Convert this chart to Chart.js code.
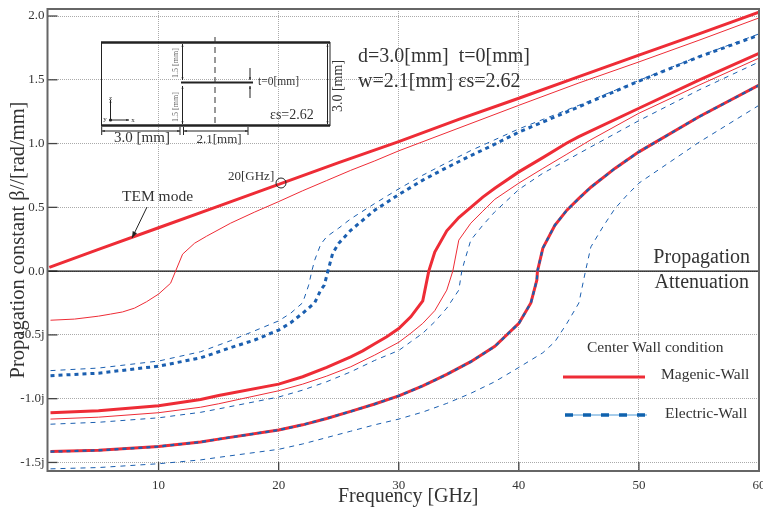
<!DOCTYPE html>
<html>
<head>
<meta charset="utf-8">
<script src="https://cdn.jsdelivr.net/npm/chart.js@4/dist/chart.umd.min.js"></script>
<style>
    html, body { margin: 0; background: #fff; }
    canvas { display: block; }
</style>
</head>
<body>
<canvas id="dispersionChart" width="763" height="509"></canvas>
<script>
// values, beta in rad/mm (negative = attenuation, j axis)
const temFreq = [0.9, 5, 10, 15, 20, 25, 30, 35, 40, 45, 50, 55, 60];
const temBeta = [0.03, 0.17, 0.34, 0.51, 0.68, 0.85, 1.015, 1.19, 1.355, 1.525, 1.693, 1.86, 2.03];

const magThin1Freq = [1, 3, 5, 6, 7, 8, 9, 10, 11, 12, 13, 14, 16, 18, 20, 22, 24, 26, 28, 30, 40, 45, 50, 55, 60];
const magThin1Beta = [-0.385, -0.376, -0.353, -0.337, -0.32, -0.29, -0.24, -0.18, -0.095, 0.133, 0.219, 0.274, 0.376, 0.463, 0.545, 0.63, 0.71, 0.79, 0.864, 0.943, 1.3, 1.475, 1.64, 1.81, 1.985];

const elecThick1Freq = [1, 5, 10, 13.5, 16, 18, 20, 21, 22, 23, 23.5, 23.8, 24.1, 24.5, 25, 26, 28, 30, 32, 34, 36, 38, 40, 45, 50, 55, 60];
const elecThick1Beta = [-0.82, -0.8, -0.745, -0.68, -0.6, -0.54, -0.462, -0.405, -0.33, -0.248, -0.149, -0.11, 0, 0.14, 0.218, 0.32, 0.478, 0.6, 0.713, 0.812, 0.905, 0.995, 1.09, 1.288, 1.49, 1.68, 1.85];

const elecThin1Freq = [1, 5, 10, 13.5, 16, 18, 20, 21, 22, 22.5, 22.76, 23, 23.5, 24, 25, 26, 28, 30, 32, 34, 36, 38, 40, 45, 50, 55, 60];
const elecThin1Beta = [-0.78, -0.76, -0.705, -0.632, -0.545, -0.468, -0.39, -0.33, -0.248, -0.11, 0, 0.086, 0.21, 0.27, 0.337, 0.41, 0.53, 0.645, 0.752, 0.85, 0.945, 1.03, 1.115, 1.3, 1.495, 1.685, 1.86];

const magThick2Freq = [1, 5, 10, 13.5, 15, 20, 22, 24, 26, 27, 28, 29, 30, 31, 32, 32.5, 33, 34, 35, 36, 37, 38, 40, 42, 44, 45, 50, 55, 60];
const magThick2Beta = [-1.11, -1.095, -1.055, -1.006, -0.975, -0.886, -0.828, -0.755, -0.672, -0.625, -0.57, -0.515, -0.45, -0.358, -0.233, 0, 0.15, 0.316, 0.42, 0.5, 0.58, 0.65, 0.778, 0.89, 1.005, 1.055, 1.277, 1.497, 1.708];

const magThin2Freq = [1, 5, 10, 13.5, 15, 20, 22, 24, 26, 28, 30, 31, 32, 33, 34, 34.5, 35, 36, 37, 38, 40, 42, 44, 46, 50, 55, 60];
const magThin2Beta = [-1.16, -1.145, -1.11, -1.067, -1.04, -0.938, -0.886, -0.823, -0.75, -0.658, -0.558, -0.487, -0.41, -0.31, -0.149, 0, 0.243, 0.376, 0.47, 0.563, 0.69, 0.805, 0.917, 1.03, 1.238, 1.458, 1.67];

const elecThin2Freq = [1, 5, 10, 13.5, 15, 20, 22, 24, 26, 28, 30, 31, 32, 33, 34, 35, 35.25, 35.5, 36, 37, 38, 40, 42, 44, 46, 50, 55, 60];
const elecThin2Beta = [-1.2, -1.185, -1.15, -1.107, -1.08, -0.987, -0.933, -0.867, -0.79, -0.7, -0.622, -0.554, -0.487, -0.397, -0.29, -0.149, 0, 0.086, 0.243, 0.36, 0.465, 0.64, 0.767, 0.87, 0.974, 1.18, 1.42, 1.64];

const mode3Freq = [1, 5, 10, 13.5, 15, 20, 22, 24, 26, 28, 30, 32, 34, 36, 38, 40, 41, 41.5, 41.55, 42, 43, 44, 45, 46, 48, 50, 55, 60];
const mode3Beta = [-1.415, -1.405, -1.375, -1.34, -1.317, -1.246, -1.205, -1.155, -1.1, -1.042, -0.978, -0.9, -0.81, -0.71, -0.59, -0.41, -0.25, -0.07, 0, 0.18, 0.36, 0.478, 0.57, 0.658, 0.805, 0.935, 1.21, 1.458];

const elecThin3Freq = [1, 5, 10, 13.5, 15, 20, 22, 24, 26, 28, 30, 32, 34, 36, 38, 40, 42, 43, 44, 45, 45.55, 46, 47, 48, 49, 50, 55, 60];
const elecThin3Beta = [-1.55, -1.54, -1.51, -1.48, -1.46, -1.397, -1.355, -1.305, -1.255, -1.205, -1.16, -1.105, -1.037, -0.958, -0.867, -0.755, -0.64, -0.554, -0.41, -0.25, 0, 0.19, 0.347, 0.49, 0.595, 0.69, 1.01, 1.3];

const freqTicks = [10, 20, 30, 40, 50, 60];
const betaTicks = [-1.5, -1, -0.5, 0, 0.5, 1, 1.5, 2];
const betaLabels = { "-1.5": "-1.5j", "-1": "-1.0j", "-0.5": "-0.5j", "0": "0.0", "0.5": "0.5", "1": "1.0", "1.5": "1.5", "2": "2.0" };

const RED = "#ee2c36";
const BLUE = "#1b5fb0";
const INK = "#333333";
const SERIF = '"Liberation Serif", serif';

function series(freq, beta, color, width, dash) {
    return {
        data: freq.map((f, i) => ({ x: f, y: beta[i] })),
        borderColor: color,
        borderWidth: width,
        borderDash: dash || [],
        pointRadius: 0,
        tension: 0
    };
}

function label(ctx, text, x, y, size, opts) {
    const o = opts || {};
    ctx.save();
    ctx.font = `${size}px ${SERIF}`;
    ctx.fillStyle = o.color || INK;
    ctx.textAlign = o.align || "left";
    ctx.textBaseline = "middle";
    ctx.translate(x, y);
    if (o.rotate) ctx.rotate(o.rotate);
    ctx.fillText(text, 0, 0);
    ctx.restore();
}

function line(ctx, x1, y1, x2, y2, width, color, dash) {
    ctx.save();
    ctx.lineWidth = width;
    ctx.strokeStyle = color || "#222";
    ctx.setLineDash(dash || []);
    ctx.beginPath();
    ctx.moveTo(x1, y1);
    ctx.lineTo(x2, y2);
    ctx.stroke();
    ctx.restore();
}

function arrow(ctx, x1, y1, x2, y2, size) {
    line(ctx, x1, y1, x2, y2, 1, "#222");
    const a = Math.atan2(y2 - y1, x2 - x1);
    const s = size || 4;
    ctx.save();
    ctx.fillStyle = "#222";
    ctx.beginPath();
    ctx.moveTo(x2, y2);
    ctx.lineTo(x2 - s * Math.cos(a - 0.35), y2 - s * Math.sin(a - 0.35));
    ctx.lineTo(x2 - s * Math.cos(a + 0.35), y2 - s * Math.sin(a + 0.35));
    ctx.closePath();
    ctx.fill();
    ctx.restore();
}

// short inward ticks, frame and the zero line sit under the curves
const framePlugin = {
    id: "frame",
    beforeDatasetsDraw(chart) {
        const { ctx, chartArea: a, scales } = chart;
        freqTicks.forEach(f => {
            const x = scales.x.getPixelForValue(f);
            line(ctx, x, a.bottom, x, a.bottom - 9, 1.3, "#444");
        });
        betaTicks.forEach(b => {
            const y = scales.y.getPixelForValue(b);
            line(ctx, a.left, y, a.left + 10, y, 1.3, "#444");
        });
        const y0 = scales.y.getPixelForValue(0);
        line(ctx, a.left, y0, a.right, y0, 1.3, "#111");
    },
    afterDatasetsDraw(chart) {
        const { ctx, chartArea: a } = chart;
        ctx.save();
        ctx.strokeStyle = "#666";
        ctx.lineWidth = 2;
        ctx.strokeRect(a.left, a.top, a.right - a.left, a.bottom - a.top);
        ctx.restore();
    }
};

// waveguide cross-section sketch, top left of the plot
function drawInset(ctx) {
    line(ctx, 101, 42.5, 330, 42.5, 2.5);
    line(ctx, 101, 125.5, 330, 125.5, 2.5);
    line(ctx, 101.5, 42, 101.5, 126, 1);
    line(ctx, 330, 42, 330, 126, 1);
    line(ctx, 181, 82.5, 253, 82.5, 2);
    line(ctx, 215, 37, 215, 127, 1, "#333", [6, 4]);

    arrow(ctx, 182.5, 60, 182.5, 44, 3);
    arrow(ctx, 182.5, 60, 182.5, 80, 3);
    arrow(ctx, 182.5, 105, 182.5, 86, 3);
    arrow(ctx, 182.5, 105, 182.5, 124, 3);
    label(ctx, "1.5 [mm]", 176, 63, 8, { rotate: -Math.PI / 2, align: "center", color: "#666" });
    label(ctx, "1.5 [mm]", 176, 107, 8, { rotate: -Math.PI / 2, align: "center", color: "#666" });

    arrow(ctx, 250, 68, 250, 80, 3);
    arrow(ctx, 250, 98, 250, 86, 3);
    label(ctx, "t=0[mm]", 258, 82, 11.5);

    arrow(ctx, 327.5, 84, 327.5, 44, 3);
    arrow(ctx, 327.5, 84, 327.5, 124, 3);
    label(ctx, "3.0 [mm]", 338, 86, 14, { rotate: -Math.PI / 2, align: "center" });
    label(ctx, "εs=2.62", 270, 115, 14);

    arrow(ctx, 110.5, 120, 110.5, 100, 3);
    arrow(ctx, 110.5, 120, 129, 120, 3);
    ctx.fillStyle = "#222";
    ctx.beginPath();
    ctx.arc(110.5, 120, 1.6, 0, Math.PI * 2);
    ctx.fill();
    label(ctx, "z", 110.5, 98, 7, { align: "center" });
    label(ctx, "x", 133, 120.5, 7, { align: "center" });
    label(ctx, "y", 105, 119, 7, { align: "center" });

    [101.7, 180, 183.5, 248].forEach(x => line(ctx, x, 127, x, 135, 1));
    arrow(ctx, 140, 131, 102, 131, 3);
    arrow(ctx, 140, 131, 180, 131, 3);
    arrow(ctx, 215, 131, 184, 131, 3);
    arrow(ctx, 215, 131, 248, 131, 3);
    label(ctx, "3.0 [mm]", 142, 138, 15, { align: "center" });
    label(ctx, "2.1[mm]", 219, 140, 13, { align: "center" });
}

const notesPlugin = {
    id: "notes",
    afterDraw(chart) {
        const ctx = chart.ctx;
        drawInset(ctx);

        label(ctx, "d=3.0[mm]  t=0[mm]", 358, 57, 20);
        label(ctx, "w=2.1[mm] εs=2.62", 358, 82, 20);
        label(ctx, "Propagation", 750, 258, 20, { align: "right" });
        label(ctx, "Attenuation", 749, 283, 20, { align: "right" });

        label(ctx, "TEM mode", 122, 197, 15.5);
        arrow(ctx, 147, 207, 132, 238, 7);
        label(ctx, "20[GHz]", 228, 177, 13);
        ctx.save();
        ctx.strokeStyle = "#222";
        ctx.lineWidth = 1;
        ctx.beginPath();
        ctx.arc(281, 183, 5, 0, Math.PI * 2);
        ctx.stroke();
        ctx.restore();

        // hand placed legend
        label(ctx, "Center Wall condition", 587, 348, 15.5);
        line(ctx, 563, 377, 645, 377, 3, RED);
        label(ctx, "Magenic-Wall", 661, 375, 15.5);
        line(ctx, 565, 415, 647, 415, 1, "#4f9ad6");
        line(ctx, 565, 415, 647, 415, 3.5, "#0f62ae", [8, 10]);
        label(ctx, "Electric-Wall", 665, 414, 15.5);
    }
};

const chart = new Chart(document.getElementById("dispersionChart").getContext("2d"), {
    type: "line",
    data: {
        datasets: [
            series(temFreq, temBeta, RED, 3),
            series(magThin1Freq, magThin1Beta, RED, 1),
            series(elecThick1Freq, elecThick1Beta, BLUE, 3, [4, 4]),
            series(elecThin1Freq, elecThin1Beta, BLUE, 1, [5, 5]),
            series(magThick2Freq, magThick2Beta, RED, 3),
            series(magThin2Freq, magThin2Beta, RED, 1),
            series(elecThin2Freq, elecThin2Beta, BLUE, 1, [5, 5]),
            series(mode3Freq, mode3Beta, RED, 3),
            series(mode3Freq, mode3Beta, BLUE, 2.2, [4, 4]),
            series(elecThin3Freq, elecThin3Beta, BLUE, 1, [5, 5])
        ].reverse()
    },
    options: {
        responsive: false,
        animation: false,
        parsing: { xAxisKey: "x", yAxisKey: "y" },
        layout: { padding: { top: 9, right: 4, left: 0, bottom: 0 } },
        plugins: { legend: { display: false }, tooltip: { enabled: false } },
        scales: {
            x: {
                type: "linear",
                min: 0.75,
                max: 60,
                afterBuildTicks: scale => { scale.ticks = freqTicks.map(value => ({ value })); },
                afterFit: scale => { scale.height = 38; scale.paddingLeft = 0; scale.paddingRight = 0; },
                border: { display: false, dash: [1, 1] },
                grid: { color: "#aaaaaa", lineWidth: 1, drawTicks: false },
                ticks: { autoSkip: false, maxRotation: 0, padding: 7, color: INK, font: { family: SERIF, size: 13 } },
                title: { display: true, text: "\u00a0\u00a0Frequency [GHz]", color: INK, padding: { top: 0, bottom: 0 }, font: { family: SERIF, size: 20 } }
            },
            y: {
                type: "linear",
                min: -1.567,
                max: 2.055,
                afterBuildTicks: scale => { scale.ticks = betaTicks.map(value => ({ value })); },
                afterFit: scale => { scale.width = 47.5; scale.paddingTop = 0; scale.paddingBottom = 0; },
                border: { display: false, dash: [1, 1] },
                grid: { color: "#aaaaaa", lineWidth: 1, drawTicks: false },
                ticks: { autoSkip: false, padding: 3, color: INK, font: { family: SERIF, size: 13 }, callback: value => betaLabels[value] },
                title: { display: true, text: "Propagation constant β//[rad/mm]", color: INK, padding: { top: 6, bottom: 0 }, font: { family: SERIF, size: 20.5 } }
            }
        }
    },
    plugins: [framePlugin, notesPlugin]
});
</script>
</body>
</html>
